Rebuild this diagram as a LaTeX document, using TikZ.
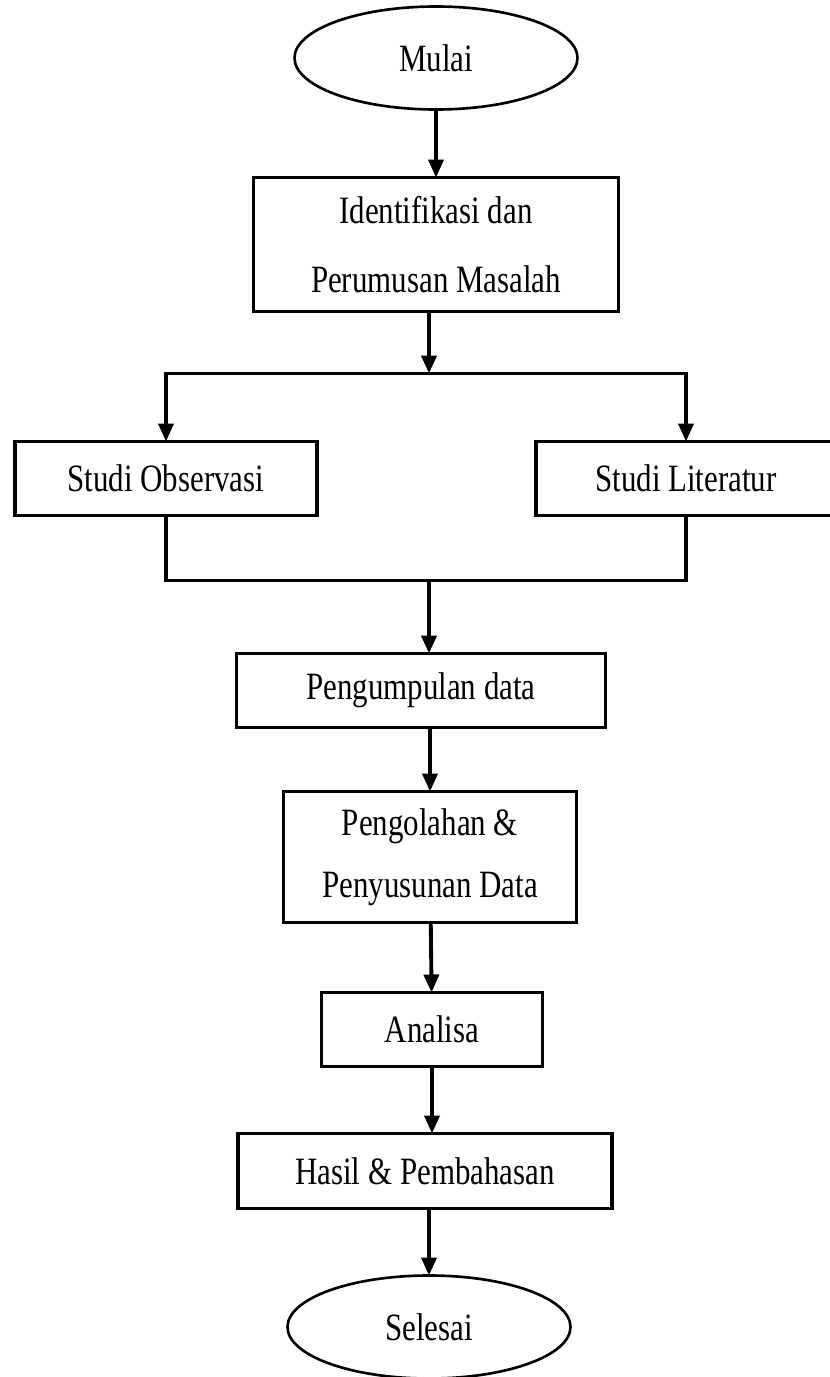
\documentclass[tikz,border=0pt]{standalone}
\usepackage{fontspec}
\setmainfont{Liberation Serif}[FakeStretch=0.8]
\usetikzlibrary{positioning,shapes.geometric,arrows.meta}

\begin{document}
\begin{tikzpicture}[
    node distance=1.34cm,
    every node/.style={draw, line width=2pt, inner sep=0pt, outer sep=0pt, align=center, font=\fontsize{22}{39.7}\selectfont},
    term/.style={ellipse, line width=1.5pt, minimum width=5.66cm, minimum height=2.06cm},
    proc/.style={rectangle, minimum height=1.48cm},
    every path/.style={line width=2.2pt},
    arr/.style={-{Triangle[length=0.36cm, width=0.3cm]}}
  ]
    \useasboundingbox (0,0) rectangle (16.6,-27.54);

    \node[term] (mulai) at (8.72,-1.16) {Mulai};
    \node[proc, below=1.36cm of mulai, minimum width=7.3cm, minimum height=2.68cm] (ident) {Identifikasi dan\\Perumusan Masalah};
    \node[proc, below=2.6cm of ident, xshift=-5.4cm, minimum width=6.04cm] (obs) {Studi Observasi};
    \node[proc, below=2.6cm of ident, xshift=5cm, minimum width=6cm] (lit) {Studi Literatur};
    \node[proc, below=2.76cm of obs, xshift=5.1cm, minimum width=7.38cm] (data) {Pengumpulan data};
    \node[proc, below=1.28cm of data, xshift=0.18cm, minimum width=5.86cm, minimum height=2.62cm, font=\fontsize{22}{35}\selectfont] (olah) {Pengolahan \&\\Penyusunan Data};
    \node[proc, below=1.4cm of olah, xshift=0.04cm, minimum width=4.42cm] (analisa) {Analisa};
    \node[proc, below=1.34cm of analisa, xshift=-0.14cm, minimum width=7.48cm, minimum height=1.5cm] (hasil) {Hasil \& Pembahasan};
    \node[term, below=1.34cm of hasil, xshift=0.08cm] (selesai) {Selesai};

    \coordinate[below=1.24cm of ident.south, xshift=-0.14cm] (split);
    \coordinate[below=1.3cm of obs, xshift=5.26cm] (merge);

    \draw[arr] (mulai) -- (ident);
    \draw[arr] (ident.south -| split) -- (split);
    \draw[arr] (split) -| (obs);
    \draw[arr] (split) -| (lit);
    \draw (obs) |- (merge);
    \draw (lit) |- (merge);
    \draw[arr] (merge) -- (data.north -| merge);
    \draw[arr] (data.south -| olah) -- (olah);
    \draw[arr] (olah) -- (analisa);
    \draw[arr] (analisa) -- (hasil.north -| analisa);
    \draw[arr] (hasil.south -| selesai) -- (selesai);
  \end{tikzpicture}
\end{document}
